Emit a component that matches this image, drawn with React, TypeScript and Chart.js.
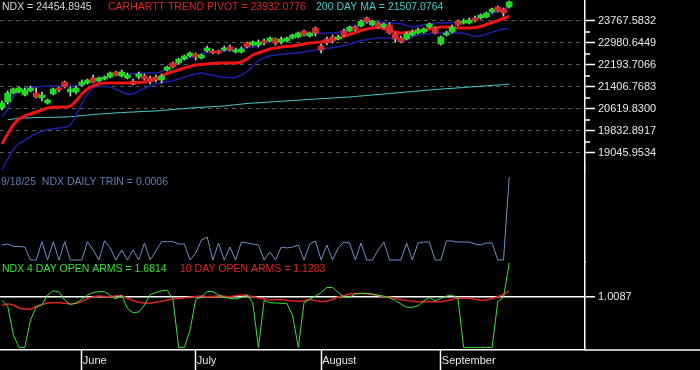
import React, { useEffect, useRef } from "react";
import { Chart, registerables } from "chart.js";

Chart.register(...registerables);

// ---------- data ----------
const ndxLast = 24454.8945;
const pivotLast = 23932.0776;
const ma200Last = 21507.0764;
const trinLast = 0.0006;
const arms4Last = 1.6814;
const arms10Last = 1.1283;
const trinDate = "9/18/25";

const monthTicks = [14, 34, 56, 77];
const monthLabels = ["June", "July", "August", "September"];

const priceTicks = [19045.9534, 19832.8917, 20619.83, 21406.7683, 22193.7066, 22980.6449, 23767.5832];
const armsTicks = [1.0087];

const opens = [
  20656, 20870, 21192, 21228, 21121, 21264, 21192, 21013, 20834, 21156,
  21371, 21586, 21228, 21228, 21478, 21550, 21729, 21621, 21693, 21765,
  21943, 21800, 21729, 21621, 21765, 21800, 21729, 21765, 21657, 22015,
  22265, 22265, 22408, 22516, 22587, 22444, 22695, 22695, 22695, 22730,
  22838, 22659, 22659, 22981, 22909, 22909, 23052, 23052, 23124, 23016,
  23052, 23160, 23195, 23410, 23231, 23517, 22873, 23124, 23195, 23124,
  23410, 23410, 23553, 23589, 23875, 23625, 23696, 23553, 23625, 23303,
  23160, 23124, 23267, 23338, 23374, 23553, 23517, 22945, 23267, 23374,
  23768, 23696, 23696, 23875, 23875, 23911, 24090, 24268, 24197, 24268,
];
const closes = [
  20835, 21192, 21335, 21371, 21300, 21371, 21049, 21121, 20942, 21335,
  21300, 21407, 21335, 21371, 21586, 21657, 21586, 21729, 21765, 21908,
  21836, 21943, 21836, 21514, 21872, 21693, 21586, 21657, 21800, 22122,
  22122, 22408, 22516, 22623, 22480, 22551, 22802, 22623, 22623, 22802,
  22730, 22730, 22766, 22838, 23016, 23016, 22981, 23160, 22981, 23124,
  23160, 23267, 23338, 23267, 23338, 23338, 22730, 22981, 23052, 23195,
  23267, 23553, 23446, 23768, 23732, 23768, 23553, 23660, 23338, 23124,
  23016, 23303, 23374, 23446, 23481, 23660, 23338, 23195, 23338, 23553,
  23625, 23768, 23803, 23768, 23982, 24054, 24197, 24125, 24054, ndxLast,
];
const highs = [
  20906, 21264, 21371, 21407, 21371, 21443, 21371, 21228, 20978, 21371,
  21407, 21621, 21407, 21443, 21657, 21693, 21836, 21765, 21800, 21943,
  21979, 22015, 21908, 21693, 21943, 21872, 21800, 21836, 21872, 22158,
  22301, 22444, 22551, 22659, 22623, 22587, 22873, 22766, 22730, 22873,
  22909, 22802, 22838, 23016, 23052, 23088, 23124, 23195, 23160, 23195,
  23195, 23303, 23374, 23446, 23374, 23553, 22945, 23195, 23267, 23267,
  23481, 23589, 23589, 23803, 23911, 23803, 23732, 23696, 23696, 23338,
  23231, 23374, 23446, 23517, 23517, 23696, 23553, 23231, 23410, 23625,
  23803, 23839, 23875, 23946, 24018, 24090, 24233, 24304, 24233, 24483,
];
const lows = [
  20584, 20799, 21156, 21192, 21085, 21228, 21013, 20906, 20799, 21121,
  21228, 21371, 21085, 21156, 21443, 21514, 21550, 21586, 21657, 21729,
  21800, 21765, 21693, 21478, 21693, 21657, 21514, 21586, 21550, 21979,
  22086, 22230, 22373, 22480, 22373, 22408, 22659, 22587, 22587, 22695,
  22695, 22623, 22623, 22802, 22873, 22838, 22909, 23016, 22909, 22945,
  23016, 23124, 23160, 23231, 23195, 23231, 22623, 22909, 22981, 23088,
  23231, 23374, 23410, 23553, 23696, 23589, 23517, 23517, 23303, 23016,
  22981, 23088, 23231, 23303, 23338, 23517, 23303, 22909, 23231, 23338,
  23589, 23660, 23660, 23732, 23839, 23875, 24054, 24090, 23946, 24233,
];
const trendPivot = [
  19368, 19726, 20048, 20262, 20370, 20441, 20513, 20584, 20656, 20674,
  20691, 20691, 20727, 20906, 21156, 21335, 21443, 21514, 21550, 21550,
  21550, 21550, 21550, 21550, 21568, 21586, 21639, 21693, 21800, 21890,
  21961, 22015, 22086, 22140, 22194, 22212, 22230, 22247, 22265, 22265,
  22265, 22265, 22301, 22408, 22552, 22623, 22695, 22766, 22802, 22838,
  22856, 22873, 22909, 22945, 22981, 22999, 23017, 23052, 23088, 23160,
  23213, 23285, 23356, 23428, 23482, 23517, 23535, 23499, 23428, 23374,
  23338, 23356, 23374, 23410, 23446, 23482, 23517, 23553, 23553, 23535,
  23517, 23517, 23517, 23535, 23571, 23642, 23714, 23786, 23857, pivotLast,
];
const upperBand = [
  20334, 20620, 21049, 21264, 21353, 21396, 21414, 21425, 21435, 21443,
  21443, 21443, 21443, 21443, 21496, 21550, 21639, 21711, 21757, 21800,
  21843, 21872, 21872, 21879, 21890, 21907, 21907, 21907, 21961, 22069,
  22194, 22301, 22390, 22462, 22516, 22587, 22630, 22652, 22673, 22695,
  22712, 22737, 22777, 22809, 22831, 22891, 22981, 23034, 23070, 23113,
  23149, 23185, 23220, 23256, 23285, 23310, 23331, 23338, 23338, 23356,
  23446, 23546, 23596, 23642, 23678, 23707, 23728, 23721, 23703, 23689,
  23667, 23607, 23560, 23589, 23625, 23667, 23696, 23696, 23696, 23710,
  23725, 23743, 23768, 23821, 23882, 23946, 24018, 24125, 24197, 24258,
];
const lowerBand = [
  18438, 18831, 19171, 19386, 19500, 19636, 19740, 19819, 19879, 19915,
  19937, 19962, 20048, 20405, 20820, 21142, 21371, 21432, 21425, 21403,
  21321, 21239, 21156, 21164, 21260, 21364, 21443, 21521, 21568, 21596,
  21632, 21693, 21757, 21818, 21879, 21908, 21872, 21829, 21790, 21757,
  21736, 21750, 21836, 21961, 22129, 22355, 22451, 22516, 22548, 22577,
  22598, 22612, 22630, 22662, 22695, 22723, 22755, 22784, 22813, 22845,
  22895, 22941, 23006, 23067, 23099, 23135, 23160, 23160, 23160, 23117,
  23034, 23110, 23195, 23270, 23296, 23324, 23338, 23338, 23338, 23338,
  23338, 23331, 23274, 23213, 23242, 23296, 23360, 23439, 23481, 23481,
];
const ma200 = [
  null, 20234, 20262, 20291, 20298, 20305, 20312, 20316, 20319, 20323,
  20327, 20334, 20344, 20362, 20384, 20402, 20420, 20437, 20452, 20466,
  20480, 20491, 20502, 20513, 20523, 20534, 20541, 20548, 20566, 20584,
  20602, 20620, 20634, 20652, 20666, 20681, 20691, 20706, 20716, 20727,
  20752, 20774, 20795, 20817, 20831, 20842, 20856, 20870, 20885, 20895,
  20910, 20924, 20935, 20949, 20963, 20974, 20988, 20999, 21013, 21024,
  21038, 21049, 21067, 21085, 21103, 21121, 21139, 21156, 21174, 21192,
  21210, 21228, 21246, 21264, 21282, 21299, 21314, 21332, 21346, 21360,
  21375, 21392, 21407, 21421, 21435, 21450, 21464, 21478, 21493, ma200Last,
];
const trin = [
  1.051, 1.036, 1.074, 1.074, 1.082, 1.283, 1.283, 1.0, 1.283, 1.0,
  1.283, 1.0, 1.283, 1.283, 1.283, 1.0, 1.128, 1.283, 0.985, 1.097,
  1.283, 1.128, 1.283, 1.128, 1.283, 1.02, 1.283, 1.144, 1.0, 1.0,
  1.0, 1.036, 1.036, 1.283, 1.175, 0.974, 0.927, 1.283, 1.02, 1.283,
  1.082, 1.283, 1.005, 1.02, 1.036, 1.051, 1.283, 1.159, 1.283, 1.082,
  1.097, 1.082, 1.051, 1.283, 1.036, 0.989, 1.283, 1.051, 1.283, 1.097,
  1.005, 1.02, 1.283, 1.02, 1.283, 1.283, 1.128, 1.005, 1.283, 1.283,
  1.283, 1.02, 1.283, 1.02, 1.005, 1.005, 1.283, 1.283, 0.989, 0.989,
  1.005, 1.005, 1.005, 1.036, 1.051, 1.02, 1.02, 1.283, 1.283, trinLast,
];
const arms4 = [
  0.939, 0.83, 0.256, 0.01, 0.01, 0.553, 0.811, 0.85, 1.048, 1.133,
  1.108, 0.949, 0.86, 0.89, 0.959, 1.048, 1.098, 1.114, 1.114, 1.038,
  0.969, 1.048, 0.781, 0.698, 0.712, 0.85, 1.058, 1.098, 1.128, 1.147,
  0.963, 0.01, 0.01, 0.355, 0.959, 1.009, 1.118, 1.114, 1.048, 1.009,
  0.979, 0.969, 0.999, 1.058, 0.89, 0.01, 0.939, 0.896, 0.89, 0.884,
  0.884, 0.632, 0.01, 0.9, 0.959, 1.028, 1.098, 1.197, 1.197, 1.098,
  1.009, 1.009, 1.068, 1.082, 1.082, 1.068, 1.044, 1.025, 0.993, 0.939,
  0.87, 0.805, 0.805, 0.83, 0.93, 0.999, 0.935, 0.979, 1.028, 1.048,
  0.983, 0.01, 0.01, 0.01, 0.01, 0.01, 0.01, 0.916, 1.003, arms4Last,
];
const arms10 = [
  0.84, 0.87, 0.85, 0.791, 0.771, 0.767, 0.821, 0.86, 0.89, 0.896,
  0.896, 0.884, 0.87, 0.886, 0.916, 0.975, 1.011, 1.027, 1.023, 1.015,
  1.034, 1.034, 0.985, 0.939, 0.904, 0.89, 0.884, 0.904, 0.924, 0.949,
  0.969, 0.981, 0.991, 1.003, 1.019, 1.027, 1.019, 1.019, 1.027, 1.023,
  1.015, 1.034, 1.046, 1.034, 1.017, 0.989, 0.969, 0.949, 0.957, 0.959,
  0.943, 0.93, 0.92, 0.935, 0.961, 0.937, 0.92, 0.93, 0.959, 1.013,
  1.036, 1.066, 1.076, 1.08, 1.072, 1.058, 1.036, 1.019, 1.005, 0.981,
  0.957, 0.941, 0.925, 0.916, 0.916, 0.916, 0.916, 0.916, 0.933, 0.959,
  0.983, 0.983, 0.983, 0.965, 0.943, 0.951, 0.979, 1.015, 1.058, arms10Last,
];

// ---------- styling ----------
const FONT = '"Liberation Sans", Arial, Helvetica, sans-serif';
const UP = "#22d822";
const DOWN = "#d42c2c";
const WHITE = "#ffffff";

const xy = (arr: (number | null)[]) => arr.map((v, i) => ({ x: i, y: v }));

const overlayTexts = [
  { text: `NDX = ${ndxLast.toFixed(4)}`, x: 2, y: 10, color: "#d8d8d8" },
  { text: `CARHARTT TREND PIVOT = ${pivotLast.toFixed(4)}`, x: 108, y: 10, color: "#e02424" },
  { text: `200 DAY MA = ${ma200Last.toFixed(4)}`, x: 316, y: 10, color: "#3ccfcf" },
  { text: `${trinDate}  NDX DAILY TRIN = ${trinLast.toFixed(4)}`, x: 1, y: 185, color: "#5b7fb5" },
  { text: `NDX 4 DAY OPEN ARMS = ${arms4Last.toFixed(4)}`, x: 2, y: 272, color: "#2ee82e" },
  { text: `10 DAY OPEN ARMS = ${arms10Last.toFixed(4)}`, x: 180, y: 272, color: "#e02424" },
];

const overlayPlugin = {
  id: "overlay",
  beforeDraw(chart: any) {
    const ctx = chart.ctx;
    ctx.save();
    ctx.fillStyle = "#000";
    ctx.fillRect(0, 0, chart.width, chart.height);
    ctx.restore();
  },
  afterDraw(chart: any) {
    const ctx = chart.ctx;
    const ys = chart.scales.y;
    const xs = chart.scales.x;
    ctx.save();
    ctx.strokeStyle = WHITE;
    ctx.lineWidth = 1.5;
    for (let k = 0; k < priceTicks.length - 1; k++) {
      const v = (priceTicks[k] + priceTicks[k + 1]) / 2;
      const py = Math.round(ys.getPixelForValue(v));
      ctx.beginPath();
      ctx.moveTo(ys.left, py);
      ctx.lineTo(ys.left + 5, py);
      ctx.stroke();
    }
    const by = Math.round(xs.top);
    ctx.beginPath();
    ctx.moveTo(chart.chartArea.right, by);
    ctx.lineTo(chart.width, by);
    ctx.stroke();
    ctx.font = `10.5px ${FONT}`;
    ctx.textBaseline = "alphabetic";
    ctx.textAlign = "left";
    for (const t of overlayTexts) {
      ctx.fillStyle = t.color;
      ctx.fillText(t.text, t.x, t.y);
    }
    ctx.restore();
  },
};

const fixRight = (s: any) => {
  s.width = 115;
  s.paddingTop = 0;
  s.paddingBottom = 0;
};

export default function App() {
  const ref = useRef<HTMLCanvasElement>(null);

  useEffect(() => {
    document.body.style.margin = "0";
    document.body.style.background = "#000";
    Chart.defaults.font.family = FONT;

    const n = closes.length;
    const idx = Array.from({ length: n }, (_, i) => i);
    const bodyColors = idx.map((i) => (closes[i] >= opens[i] ? UP : DOWN));

    const chart = new Chart(ref.current!, {
      type: "bar",
      data: {
        datasets: [
          {
            type: "bar",
            label: "body",
            data: idx.map((i) => ({ x: i, y: [opens[i], closes[i]] })) as any,
            backgroundColor: bodyColors,
            borderWidth: 0,
            barThickness: 6,
            grouped: false,
            yAxisID: "y",
            order: 0,
            clip: false as any,
          },
          {
            type: "bar",
            label: "wick",
            data: idx.map((i) => ({ x: i, y: [lows[i], highs[i]] })) as any,
            backgroundColor: "#cfcfcf",
            borderWidth: 0,
            barThickness: 1,
            grouped: false,
            yAxisID: "y",
            order: 1,
            clip: false as any,
          },
          {
            type: "line",
            label: "pivot",
            data: xy(trendPivot) as any,
            borderColor: "#ee1515",
            borderWidth: 3,
            pointRadius: 0,
            tension: 0.3,
            borderJoinStyle: "round",
            yAxisID: "y",
            order: 2,
            clip: false as any,
          },
          {
            type: "line",
            label: "upper",
            data: xy(upperBand) as any,
            borderColor: "#1f1fa8",
            borderWidth: 1.5,
            pointRadius: 0,
            tension: 0.3,
            yAxisID: "y",
            order: 3,
            clip: false as any,
          },
          {
            type: "line",
            label: "lower",
            data: xy(lowerBand) as any,
            borderColor: "#1f1fa8",
            borderWidth: 1.5,
            pointRadius: 0,
            tension: 0.3,
            yAxisID: "y",
            order: 3,
            clip: false as any,
          },
          {
            type: "line",
            label: "ma200",
            data: xy(ma200) as any,
            borderColor: "#4fd8d8",
            borderWidth: 1,
            pointRadius: 0,
            tension: 0.2,
            yAxisID: "y",
            order: 4,
            clip: false as any,
          },
          {
            type: "line",
            label: "trin",
            data: xy(trin) as any,
            borderColor: "#6f90c8",
            borderWidth: 1,
            pointRadius: 0,
            tension: 0,
            yAxisID: "yT",
            order: 5,
            clip: false as any,
          },
          {
            type: "line",
            label: "arms10",
            data: xy(arms10) as any,
            borderColor: "#dd2222",
            borderWidth: 1.5,
            pointRadius: 0,
            tension: 0.2,
            yAxisID: "yA",
            order: 7,
            clip: false as any,
          },
          {
            type: "line",
            label: "arms4",
            data: xy(arms4) as any,
            borderColor: "#33e633",
            borderWidth: 1,
            pointRadius: 0,
            tension: 0,
            yAxisID: "yA",
            order: 6,
            clip: false as any,
          },
        ],
      },
      options: {
        responsive: false,
        animation: false,
        devicePixelRatio: 1,
        events: [],
        layout: { padding: 0 },
        plugins: { legend: { display: false }, tooltip: { enabled: false } },
        scales: {
          x: {
            type: "linear",
            position: "bottom",
            min: -0.35,
            max: 102.3,
            offset: false,
            afterBuildTicks: (s: any) => {
              s.ticks = monthTicks.map((value) => ({ value }));
            },
            afterFit: (s: any) => {
              s.height = 20;
              s.paddingLeft = 0;
              s.paddingRight = 0;
            },
            ticks: {
              callback: (v: any) => monthLabels[monthTicks.indexOf(Number(v))] ?? "",
              align: "start",
              labelOffset: 1,
              padding: -16,
              color: "#e8e8e8",
              font: { size: 11 },
              maxRotation: 0,
              autoSkip: false,
            },
            grid: {
              offset: false,
              drawOnChartArea: false,
              drawTicks: true,
              tickLength: 20,
              tickColor: WHITE,
              tickWidth: 1.5,
            },
            border: { color: WHITE, width: 1.5 },
          },
          y: {
            type: "linear",
            position: "right",
            stack: "right",
            stackWeight: 168,
            min: 18509.4,
            max: 24518.75,
            beginAtZero: false,
            afterBuildTicks: (s: any) => {
              s.ticks = priceTicks.map((value) => ({ value }));
            },
            afterFit: fixRight,
            ticks: {
              callback: (v: any) => Number(v).toFixed(4),
              color: "#e8e8e8",
              font: { size: 11 },
              padding: 3,
              autoSkip: false,
            },
            grid: {
              color: "#5a5a5a",
              lineWidth: 1,
              tickLength: 10,
              tickColor: WHITE,
              tickWidth: 1.5,
            },
            border: { color: WHITE, width: 1.5, dash: [4, 4] },
          },
          yT: {
            type: "linear",
            position: "right",
            stack: "right",
            stackWeight: 94,
            reverse: true,
            min: -0.1391,
            max: 1.3138,
            beginAtZero: false,
            afterFit: fixRight,
            ticks: { display: false },
            grid: { display: false },
            border: { color: WHITE, width: 1.5 },
          },
          yA: {
            type: "linear",
            position: "right",
            stack: "right",
            stackWeight: 88,
            min: -0.0408,
            max: 1.7018,
            beginAtZero: false,
            afterBuildTicks: (s: any) => {
              s.ticks = armsTicks.map((value) => ({ value }));
            },
            afterFit: fixRight,
            ticks: {
              callback: (v: any) => Number(v).toFixed(4),
              color: "#e8e8e8",
              font: { size: 11 },
              padding: 3,
              autoSkip: false,
            },
            grid: {
              color: WHITE,
              lineWidth: 1.5,
              tickLength: 10,
              tickColor: WHITE,
              tickWidth: 1.5,
            },
            border: { color: WHITE, width: 1.5 },
          },
        },
      } as any,
      plugins: [overlayPlugin],
    });

    return () => chart.destroy();
  }, []);

  return (
    <div style={{ width: 700, height: 370, background: "#000" }}>
      <canvas ref={ref} width={700} height={370} style={{ display: "block", width: 700, height: 370 }} />
    </div>
  );
}
